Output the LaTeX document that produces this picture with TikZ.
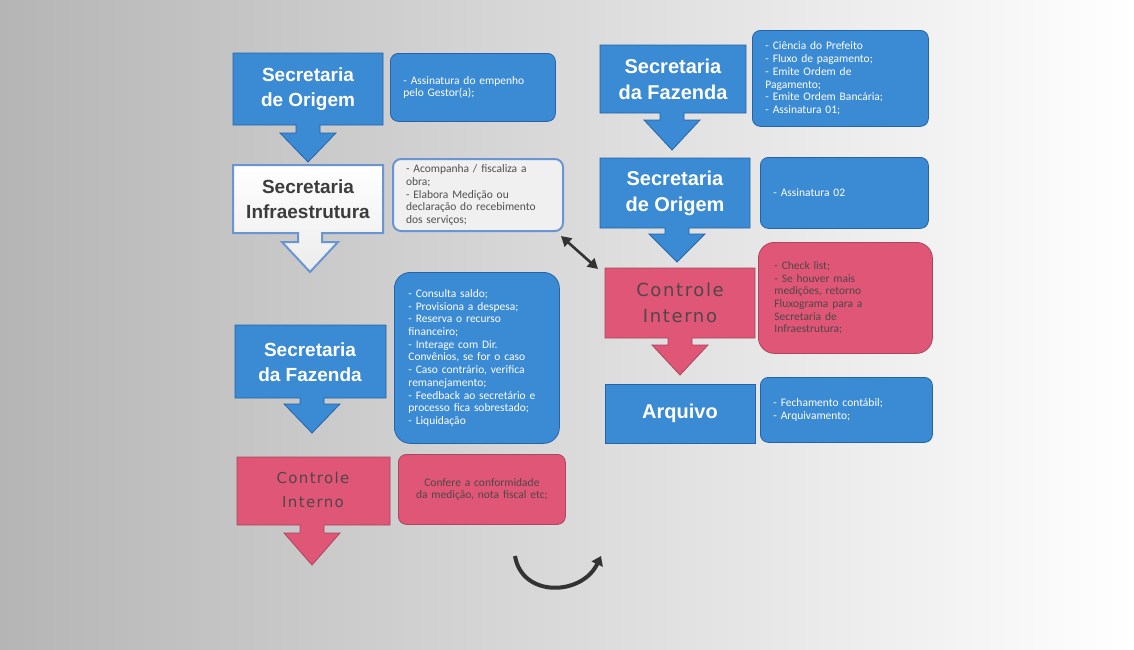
\documentclass[tikz,border=0pt]{standalone}
\usepackage{fontspec}
\setmainfont{Carlito}
\newfontfamily\titlefont{Liberation Sans}
\newfontfamily\ctrlfont[LetterSpace=9]{DejaVu Sans}
\usetikzlibrary{arrows.meta,calc}
\definecolor{bfill}{RGB}{58,138,212}
\definecolor{bline}{RGB}{38,100,170}
\definecolor{rfill}{RGB}{224,86,118}
\definecolor{rline}{RGB}{170,70,95}
\definecolor{ctext}{RGB}{80,70,75}
\definecolor{gtext}{RGB}{80,80,80}
\definecolor{lfill}{RGB}{240,240,240}
\definecolor{lline}{RGB}{105,150,210}
\definecolor{ititle}{RGB}{60,60,60}
% callout: style, x1, y1, x2, y2, cx, head base y, tip y
\newcommand\callout[8]{\path[#1] (#2,#3) -- (#4,#3) -- (#4,#5) -- (#6+12,#5) -- (#6+12,#7) -- (#6+28,#7) -- (#6,#8) -- (#6-28,#7) -- (#6-12,#7) -- (#6-12,#5) -- (#2,#5) -- cycle;}
\begin{document}
\begin{tikzpicture}[x=1pt,y=-1pt,
  bluecall/.style={fill=bfill, draw=bline, line width=0.8pt},
  redcall/.style={fill=rfill, draw=rline, line width=0.8pt},
  graycall/.style={top color=white, bottom color=gray!15, draw=lline, line width=2pt},
  title/.style={font=\titlefont\bfseries\fontsize{19}{25}\selectfont, text=white, align=center},
  ctitle/.style={font=\ctrlfont\fontsize{15}{24}\selectfont, text=ctext, align=center},
  side/.style={rounded corners=8pt, inner xsep=13pt, inner ysep=0pt, anchor=north west, font=\fontsize{11.5}{12.7}\selectfont, align=left},
  bside/.style={side, fill=bfill, draw=bline, line width=0.8pt, text=white},
  rside/.style={side, fill=rfill, draw=rline, line width=0.8pt, text=ctext},
  lside/.style={side, fill=lfill, draw=lline, line width=2pt, text=gtext},
  link/.style={line width=2.6pt, black!80, {Triangle[length=10pt,width=11pt]}-{Triangle[length=10pt,width=11pt]}},
  turn/.style={line width=4pt, black!80, -{Triangle[length=9pt,width=12pt]}}
]
\useasboundingbox (0,0) rectangle (1134,649);
\shade[left color=gray!58, middle color=gray!22, right color=white] (0,0) rectangle (1134,649);

% ---- left column callouts
\callout{bluecall}{233}{53}{383}{125}{308}{133}{162}
\node[title] (so1) at (308,89) {Secretaria\\de Origem};
\callout{graycall}{233}{165}{383}{233}{310}{242}{272}
\node[title, text=ititle] (si) at (308,199) {Secretaria\\Infraestrutura};
\callout{bluecall}{235}{325}{386}{398}{312}{404}{433}
\node[title] (sf1) at (310,362) {Secretaria\\da Fazenda};
\callout{redcall}{237}{457}{390}{525}{312}{533}{565}
\node[ctitle, font=\ctrlfont\fontsize{15}{24}\selectfont] (ci1) at (313,490) {Controle\\Interno};

% ---- right column callouts
\callout{bluecall}{600}{45}{746}{113}{672}{120}{150}
\node[title, font=\titlefont\bfseries\fontsize{20}{26}\selectfont] (sf2) at (673,79) {Secretaria\\da Fazenda};
\callout{bluecall}{600}{158}{750}{228}{677}{234}{262}
\node[title, font=\titlefont\bfseries\fontsize{20}{26}\selectfont] (so2) at (675,193) {Secretaria\\de Origem};
\callout{redcall}{605}{268}{755}{338}{680}{345}{375}
\node[ctitle, font=\ctrlfont\fontsize{18}{26}\selectfont] (ci2) at (680,303) {Controle\\Interno};
\path[bluecall] (605,384) rectangle (755,443);
\node[title, font=\titlefont\bfseries\fontsize{20}{26}\selectfont] (ar) at (680,413) {Arquivo};

% ---- side boxes, left
\node[bside, text width=139pt, minimum height=68pt] (b1) at (390,53)
  {- Assinatura do empenho\\pelo Gestor(a);};
\node[lside, text width=144pt, minimum height=72pt] (b2) at (392,158)
  {- Acompanha / fiscaliza a\\obra;\\- Elabora Medição ou\\declaração do recebimento\\dos serviços;};
\node[bside, rounded corners=16pt, inner xsep=14pt, text width=137pt, minimum height=171pt] (b3) at (394,272)
  {- Consulta saldo;\\- Provisiona a despesa;\\- Reserva o recurso\\financeiro;\\- Interage com Dir.\\Convênios, se for o caso\\- Caso contrário, verifica\\remanejamento;\\- Feedback ao secretário e\\processo fica sobrestado;\\- Liquidação};
\node[rside, align=center, text width=141pt, minimum height=70pt] (b4) at (398,454)
  {Confere a conformidade\\da medição, nota fiscal etc;};

% ---- side boxes, right
\node[bside, text width=150pt, minimum height=96pt] (b5) at (752,30)
  {- Ciência do Prefeito\\- Fluxo de pagamento;\\- Emite Ordem de\\Pagamento;\\- Emite Ordem Bancária;\\- Assinatura 01;};
\node[bside, text width=142pt, minimum height=71pt] (b6) at (760,157)
  {- Assinatura 02};
\node[rside, rounded corners=16pt, inner xsep=16pt, text width=142pt, minimum height=111pt] (b7) at (758,242)
  {- Check list;\\- Se houver mais\\medições, retorno\\Fluxograma para a\\Secretaria de\\Infraestrutura;};
\node[bside, text width=146pt, minimum height=65pt] (b8) at (760,377)
  {- Fechamento contábil;\\- Arquivamento;};

% ---- connectors
\coordinate (d1) at (561,236);
\coordinate (d2) at (598,269);
\draw[link] (d1) -- (d2);
\coordinate (u1) at (515,556);
\coordinate (u2) at (601,556);
\draw[turn] (u1) .. controls (522,598) and (582,596) .. (u2);
\end{tikzpicture}
\end{document}
